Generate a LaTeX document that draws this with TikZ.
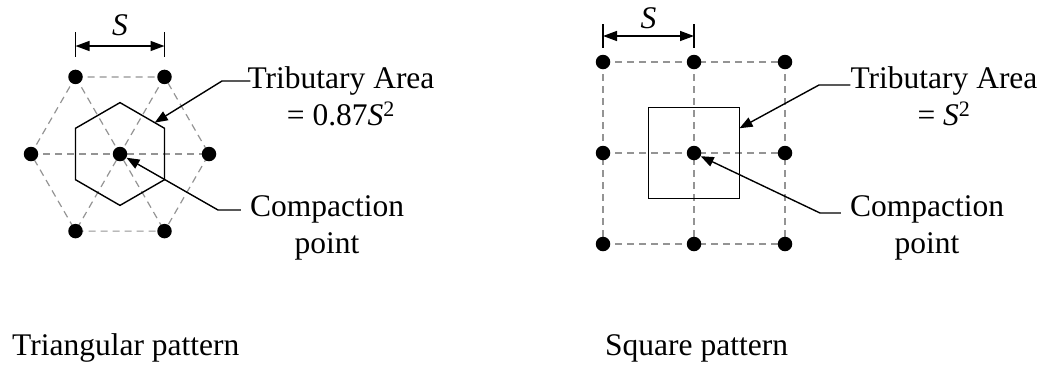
\documentclass[tikz,border=0pt]{standalone}
\usepackage{fontspec}
\setmainfont{Liberation Serif}
\usetikzlibrary{arrows.meta,calc}
\begin{document}
\begin{tikzpicture}[x=1pt,y=-1pt,
  gridline/.style={draw=black!42, line width=1.2pt, dash pattern=on 7pt off 5pt},
  solidline/.style={draw=black, line width=1.4pt},
  dot/.style={circle, fill=black, inner sep=0pt, minimum size=14.5pt},
  leadline/.style={solidline, -{Triangle[length=13pt,width=10pt]}},
  dimline/.style={solidline, {Triangle[length=14pt,width=10pt]}-{Triangle[length=14pt,width=10pt]}},
  lbl/.style={inner sep=0pt, align=center, font=\fontsize{31.5}{36.5}\selectfont},
  captxt/.style={inner sep=0pt, anchor=base west, font=\fontsize{31.5}{36}\selectfont}]
\useasboundingbox (0,0) rectangle (1050,365);

% ---------------- Triangular pattern ----------------
\coordinate (tc)  at (120,154);
\coordinate (tl)  at (31,154);
\coordinate (tr)  at (209,154);
\coordinate (tul) at (75.5,76.9);
\coordinate (tur) at (164.5,76.9);
\coordinate (tll) at (75.5,231.1);
\coordinate (tlr) at (164.5,231.1);

\draw[gridline] (tul) -- (tur) -- (tr) -- (tlr) -- (tll) -- (tl) -- cycle;
\draw[gridline] (tl) -- (tr);
\draw[gridline] (tul) -- (tlr);
\draw[gridline] (tur) -- (tll);

% tributary hexagon
\coordinate (h1) at (120,102.6);
\coordinate (h2) at (164.5,128.3);
\coordinate (h3) at (164.5,179.7);
\coordinate (h4) at (120,205.4);
\coordinate (h5) at (75.5,179.7);
\coordinate (h6) at (75.5,128.3);
\draw[solidline, line join=miter] (h1) -- (h2) -- (h3) -- (h4) -- (h5) -- (h6) -- cycle;

\foreach \p in {tc,tl,tr,tul,tur,tll,tlr} \node[dot] (d\p) at (\p) {};

% dimension S
\draw[solidline] (75.5,32) -- (75.5,57);
\draw[solidline] (164.5,32) -- (164.5,57);
\draw[dimline] (75.5,46) -- (164.5,46);
\node[lbl, anchor=base] (tS) at (120,35) {\textit{S}};

% labels
\node[lbl, anchor=north] (ltrib) at (341,66.5) {Tributary Area\\= 0.87\textit{S}\textsuperscript{2}};
\node[lbl, anchor=north] (lcomp) at (327,195.5) {Compaction\\point};
\coordinate (lbt) at (222,81);
\coordinate (ltip) at ($(h1)!0.78!(h2)$);
\coordinate (lbc) at (218,210);
\draw[leadline] ([xshift=3pt]ltrib.west |- lbt) -- (lbt) -- (ltip);
\draw[leadline] ([xshift=-9pt]lcomp.west |- lbc) -- (lbc) -- (dtc);

% ---------------- Square pattern ----------------
\coordinate (s11) at (603,62);   \coordinate (s12) at (694,62);   \coordinate (s13) at (785,62);
\coordinate (s21) at (603,153);  \coordinate (s22) at (694,153);  \coordinate (s23) at (785,153);
\coordinate (s31) at (603,244);  \coordinate (s32) at (694,244);  \coordinate (s33) at (785,244);

\draw[gridline] (s11) -- (s13);
\draw[gridline] (s21) -- (s23);
\draw[gridline] (s31) -- (s33);
\draw[gridline] (s11) -- (s31);
\draw[gridline] (s12) -- (s32);
\draw[gridline] (s13) -- (s33);

\node[solidline, draw, rectangle, minimum size=91pt, inner sep=0pt, outer sep=0pt] (sq) at (s22) {};

\foreach \p in {s11,s12,s13,s21,s22,s23,s31,s32,s33} \node[dot] (d\p) at (\p) {};

% dimension S
\draw[solidline] (603,24) -- (603,48);
\draw[solidline] (694,24) -- (694,48);
\draw[dimline] (603,36) -- (694,36);
\node[lbl, anchor=base] (sS) at (648.5,28) {\textit{S}};

% labels
\node[lbl, anchor=north] (rtrib) at (944,66.5) {Tributary Area\\= \textit{S}\textsuperscript{2}};
\node[lbl, anchor=north] (rcomp) at (927,195.5) {Compaction\\point};
\coordinate (rbt) at (819,85);
\coordinate (rbc) at (820,213);
\draw[leadline] (rtrib.west |- rbt) -- (rbt) -- (sq);
\draw[leadline] ([xshift=-9pt]rcomp.west |- rbc) -- (rbc) -- (ds22);

% captions
\node[captxt] (tcap) at (12,355) {Triangular pattern};
\node[captxt] (scap) at (605,355) {Square pattern};
\end{tikzpicture}
\end{document}
